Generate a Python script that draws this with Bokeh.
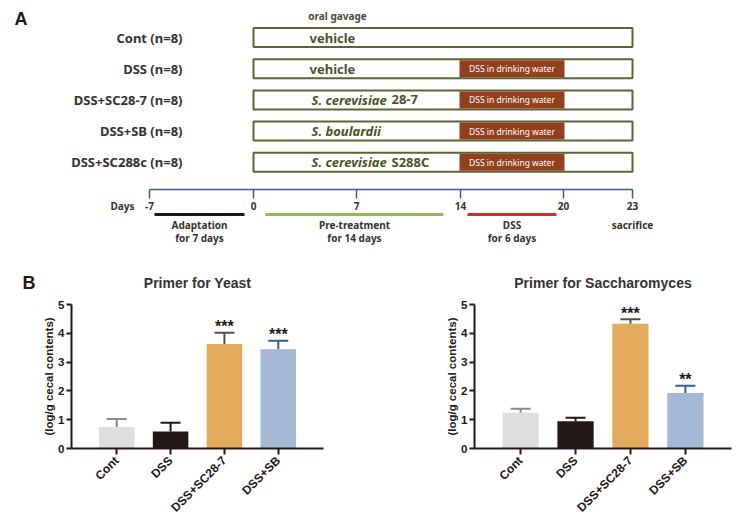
import numpy as np
from math import pi
from bokeh.plotting import figure
from bokeh.layouts import column, row
from bokeh.models import Range1d, FactorRange, FixedTicker
from bokeh.core.properties import value
from bokeh.embed import file_html
from bokeh.resources import INLINE

# ---------------- Panel A (study design) data ----------------
groups = ["Cont (n=8)", "DSS (n=8)", "DSS+SC28-7 (n=8)", "DSS+SB (n=8)", "DSS+SC288c (n=8)"]
gavage_italic = ["", "", "S. cerevisiae", "S. boulardii", "S. cerevisiae"]
gavage_plain = ["vehicle", "vehicle", "28-7", "", "S288C"]
dss_water = [False, True, True, True, True]
days = [-7, 0, 7, 14, 20, 23]
phase_names = ["Adaptation", "Pre-treatment", "DSS"]
phase_sub = ["for 7 days", "for 14 days", "for 6 days"]
phase_start = [-7, 0, 14]
phase_end = [0, 14, 20]
phase_colors = ["#231815", "#8dbf4f", "#d42a2a"]
end_label = "sacrifice"

# ---------------- Panel B (qPCR) data ----------------
cats = ["Cont", "DSS", "DSS+SC28-7", "DSS+SB"]
yeast_mean = [0.75, 0.59, 3.63, 3.45]
yeast_sem = [0.27, 0.30, 0.39, 0.29]
yeast_sig = ["", "", "***", "***"]
sacch_mean = [1.24, 0.95, 4.33, 1.93]
sacch_sem = [0.14, 0.12, 0.16, 0.25]
sacch_sig = ["", "", "***", "**"]
bar_colors = ["#dcdfde", "#231815", "#e3ab5b", "#a5b8d6"]
err_colors = ["#8a8a8a", "#231815", "#5b4f45", "#3c5a93"]
titles = ["Primer for Yeast", "Primer for Saccharomyces"]

# ---------------- geometry of the lower charts ----------------
TOP_H = 296
FIG_W, FIG_H = 370, 226
borders = [(71, 47), (104, 9)]  # (left, right) per chart

# ---------------- Panel A figure ----------------
TXT = "#333333"
OLIVE = "#5b6536"
OLIVE_TXT = "#4b5428"
BROWN = "#93401f"
NAVY = "#3d5a8f"

pa = figure(width=740, height=TOP_H, x_range=Range1d(0, 740), y_range=Range1d(TOP_H, 0),
            output_backend="svg", toolbar_location=None,
            x_axis_location=None, y_axis_location=None, min_border=0)
pa.grid.visible = False
pa.outline_line_color = None

tick_x = [149, 253, 356, 460, 563, 632]   # schematic (non-linear) day positions


def day_to_x(d):
    return np.interp(d, days, tick_x)


n = len(groups)
row_y = [37 + 31.2 * i for i in range(n)]

pa.text(x=[14, 22], y=[18, 282], text=["A", "B"], text_font=value("Liberation Sans"), text_font_style="bold",
        text_font_size="18px", text_color="#1a1a1a", text_align="left", text_baseline="middle")
pa.text(x=[337], y=[15], text=["oral gavage"], text_font=value("Noto Sans"), text_font_style="bold",
        text_font_size="10px", text_color="#4a4a3c", text_align="center", text_baseline="middle")

pa.text(x=[182] * n, y=row_y, text=groups, text_font=value("Noto Sans"), text_font_style="bold",
        text_font_size="13px", text_color=TXT, text_align="right", text_baseline="middle")

x0 = day_to_x(0)
x1 = day_to_x(23)
pa.quad(left=[x0] * n, right=[x1] * n, top=[y - 9.5 for y in row_y], bottom=[y + 9.5 for y in row_y],
        fill_color=None, line_color=OLIVE, line_width=2)

# gavage texts
it_x, it_y, it_t, pl_x, pl_y, pl_t = [], [], [], [], [], []
for i in range(n):
    if gavage_italic[i]:
        it_x.append(311); it_y.append(row_y[i]); it_t.append(gavage_italic[i])
        if gavage_plain[i]:
            pl_x.append(391); pl_y.append(row_y[i]); pl_t.append(gavage_plain[i])
    else:
        pl_x.append(309); pl_y.append(row_y[i]); pl_t.append(gavage_plain[i])
pa.text(x=it_x, y=it_y, text=it_t, text_font=value("Noto Sans"), text_font_style="bold italic",
        text_font_size="13px", text_color=OLIVE_TXT, text_align="left", text_baseline="middle")
pa.text(x=pl_x, y=pl_y, text=pl_t, text_font=value("Noto Sans"), text_font_style="bold",
        text_font_size="13px", text_color=OLIVE_TXT, text_align="left", text_baseline="middle")

# DSS in drinking water boxes
dy = [row_y[i] for i in range(n) if dss_water[i]]
m = len(dy)
dl, dr = day_to_x(14) - 1, day_to_x(20) + 1
pa.quad(left=[dl] * m, right=[dr] * m, top=[y - 8.5 for y in dy], bottom=[y + 8.5 for y in dy],
        fill_color=BROWN, line_color=None)
pa.text(x=[(dl + dr) / 2] * m, y=dy, text=["DSS in drinking water"] * m, text_font=value("Noto Sans"),
        text_font_size="8.5px", text_color="white", text_align="center", text_baseline="middle")

# timeline
ty = 189
pa.segment(x0=[tick_x[0]], y0=[ty], x1=[tick_x[-1]], y1=[ty], line_color=NAVY, line_width=1.5)
pa.segment(x0=tick_x, y0=[ty] * len(days), x1=tick_x, y1=[ty + 9] * len(days), line_color=NAVY, line_width=1.5)
TLF = value("Noto Sans")
pa.text(x=tick_x, y=[205] * len(days), text=[str(d) for d in days], text_font=TLF, text_font_style="bold",
        text_font_size="10px", text_color=TXT, text_align="center", text_baseline="middle")
pa.text(x=[122], y=[205], text=["Days"], text_font=TLF, text_font_style="bold",
        text_font_size="10px", text_color=TXT, text_align="center", text_baseline="middle")

inset_l = [5, 12, 7]
inset_r = [9, 17, 7]
bx0 = [day_to_x(s) + a for s, a in zip(phase_start, inset_l)]
bx1 = [day_to_x(e) - b for e, b in zip(phase_end, inset_r)]
k = len(phase_names)
pa.segment(x0=bx0, y0=[214] * k, x1=bx1, y1=[214] * k, line_color=phase_colors, line_width=3)
cx = [(a + b) / 2 for a, b in zip(bx0, bx1)]
pa.text(x=cx + [day_to_x(23)], y=[224] * (k + 1), text=phase_names + [end_label], text_font=TLF,
        text_font_style="bold", text_font_size="10px", text_color=TXT, text_align="center",
        text_baseline="middle")
pa.text(x=cx, y=[237] * k, text=phase_sub, text_font=TLF, text_font_style="bold",
        text_font_size="10px", text_color=TXT, text_align="center", text_baseline="middle")

# titles of the two charts, centred over each chart's plotting frame
title_x = [i * FIG_W + (lb + FIG_W - rb) / 2 for i, (lb, rb) in enumerate(borders)]
pa.text(x=title_x, y=[282] * 2, text=titles, text_font=value("Liberation Sans"), text_font_style="bold",
        text_font_size="14px", text_color=TXT, text_align="center", text_baseline="middle")

# ---------------- Panel B figures ----------------
AX = "#231815"
FONT = "Liberation Sans"


def bar_panel(mean, sem, sig, left, right):
    p = figure(width=FIG_W, height=FIG_H, x_range=FactorRange(factors=cats, range_padding=0.34,
                                                              range_padding_units="absolute"),
               y_range=Range1d(0, 5), output_backend="svg", toolbar_location=None,
               min_border_left=left, min_border_right=right, min_border_top=304 - TOP_H,
               min_border_bottom=73)
    p.grid.visible = False
    p.outline_line_color = None
    upper = [a + b for a, b in zip(mean, sem)]
    p.vbar(x=cats, top=mean, width=0.66, fill_color=bar_colors, line_color=None)
    p.segment(x0=cats, y0=mean, x1=cats, y1=upper, line_color=err_colors, line_width=2)
    p.scatter(x=cats, y=upper, marker="dash", size=20, line_color=err_colors, line_width=2)
    p.text(x=cats, y=upper, text=sig, text_font=value(FONT), text_font_style="bold",
           text_font_size="16px", text_color=AX, text_align="center", text_baseline="alphabetic",
           y_offset=-6)
    for ax in (p.xaxis[0], p.yaxis[0]):
        ax.axis_line_width = 2
        ax.axis_line_color = AX
        ax.major_tick_line_width = 2
        ax.major_tick_line_color = AX
        ax.major_tick_in = 0
        ax.minor_tick_line_color = None
        ax.major_label_text_font = FONT
        ax.major_label_text_font_style = "bold"
        ax.major_label_text_color = AX
    p.yaxis.ticker = FixedTicker(ticks=[0, 1, 2, 3, 4, 5])
    p.yaxis.major_tick_out = 5
    p.yaxis.major_label_text_font_size = "11.5px"
    p.yaxis.major_label_standoff = 2
    p.yaxis.axis_label = "(log/g cecal contents)"
    p.yaxis.axis_label_text_font = FONT
    p.yaxis.axis_label_text_font_style = "bold"
    p.yaxis.axis_label_text_font_size = "11.5px"
    p.yaxis.axis_label_text_color = AX
    p.yaxis.axis_label_standoff = 0
    p.xaxis.major_tick_out = 6
    p.xaxis.major_label_orientation = pi / 4
    p.xaxis.major_label_text_font_size = "12px"
    p.xaxis.major_label_standoff = 4
    return p


pl = bar_panel(yeast_mean, yeast_sem, yeast_sig, *borders[0])
pr = bar_panel(sacch_mean, sacch_sem, sacch_sig, *borders[1])

layout = column(pa, row(pl, pr))
open("out.html", "w").write(file_html(layout, INLINE))
